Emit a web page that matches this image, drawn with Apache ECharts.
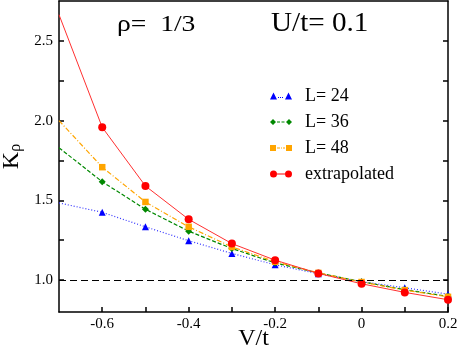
<!DOCTYPE html>
<html><head><meta charset="utf-8">
<script src="https://cdn.jsdelivr.net/npm/echarts@6/dist/echarts.min.js"></script>
<style>html,body{margin:0;padding:0;background:#fff}#c{width:460px;height:351px}</style>
</head><body><div id="c"></div>
<script>
// ---- data ----
const vt = [-0.7, -0.6, -0.5, -0.4, -0.3, -0.2, -0.1, 0, 0.1, 0.2];
const kL24 = [1.484, 1.425, 1.334, 1.247, 1.167, 1.096, 1.040, 0.990, 0.952, 0.912];
const kL36 = [1.830, 1.617, 1.444, 1.307, 1.198, 1.108, 1.045, 0.990, 0.940, 0.898];
const kL48 = [2.000, 1.708, 1.490, 1.334, 1.208, 1.115, 1.045, 0.988, 0.937, 0.895];
const kExtrap = [2.664, 1.958, 1.590, 1.381, 1.229, 1.125, 1.042, 0.977, 0.923, 0.877];
const seriesNames = ['L= 24', 'L= 36', 'L= 48', 'extrapolated'];
const xMajor = [-0.6, -0.4, -0.2, 0, 0.2];
const xTicks = [-0.6, -0.5, -0.4, -0.3, -0.2, -0.1, 0, 0.1, 0.2];
const yMajor = [1.0, 1.5, 2.0, 2.5];
const yTicks = [1.0, 1.25, 1.5, 1.75, 2.0, 2.25, 2.5];
const refLine = 1.0;

const FONT = 'Liberation Serif';
const chart = echarts.init(document.getElementById('c'), null, {renderer: 'canvas'});

function pts(ys) {
  return vt.map((x, i) => i === 0 ? {value: [x, ys[i]], symbol: 'none'} : [x, ys[i]]);
}

const iconTri = 'path://M0,7 L3.5,0 L7,7 Z M15,7 L18.5,0 L22,7 Z M8,4.5 h1 v1 h-1 Z M10,4.5 h1 v1 h-1 Z M12,4.5 h1 v1 h-1 Z';
const iconDia = 'path://M0,3.5 L3,0.5 L6,3.5 L3,6.5 Z M16,3.5 L19,0.5 L22,3.5 L19,6.5 Z M7,3 h3 v1 h-3 Z M11.5,3 h3 v1 h-3 Z M0,0 h0.01 v0.01 Z M0,7 h0.01 v-0.01 Z';
const iconSq = 'path://M0,0.5 h6 v6 h-6 Z M16,0.5 h6 v6 h-6 Z M7,3 h3 v1 h-3 Z M11,3 h1 v1 h-1 Z M13,3 h2 v1 h-2 Z M0,0 h0.01 v0.01 Z M0,7 h0.01 v-0.01 Z';
const iconCirc = 'path://M0,3.5 A3.5,3.5 0 1,1 7,3.5 A3.5,3.5 0 1,1 0,3.5 Z M15,3.5 A3.5,3.5 0 1,1 22,3.5 A3.5,3.5 0 1,1 15,3.5 Z M7,3 h8 v1 h-8 Z';

const LINE = {show: true, onZero: false, lineStyle: {color: '#000', width: 1.5}};
const TICK = vals => ({show: true, inside: true, length: 5, customValues: vals, lineStyle: {color: '#000', width: 1.5}});

const option = {
  animation: false,
  backgroundColor: '#fff',
  textStyle: {fontFamily: FONT},
  grid: {left: 59, right: 12, top: 1, bottom: 39, show: false, containLabel: false, outerBoundsMode: 'none'},
  xAxis: [{
    type: 'value', min: -0.7, max: 0.2, position: 'bottom', offset: 0,
    axisLine: LINE, splitLine: {show: false},
    name: 'V/t', nameLocation: 'middle', nameGap: 15, nameMoveOverlap: false,
    nameTextStyle: {fontFamily: FONT, fontSize: 24, color: '#000', verticalAlign: 'top'},
    axisTick: TICK(xTicks),
    axisLabel: {show: true, customValues: xMajor, margin: 5, fontFamily: FONT, fontSize: 15, color: '#000',
      formatter: v => (Math.abs(v) < 1e-9 ? '0' : String(+v.toFixed(1)))}
  }, {
    type: 'value', min: -0.7, max: 0.2, position: 'top', offset: 0,
    axisLine: LINE, splitLine: {show: false}, axisTick: {show: false}, axisLabel: {show: false}
  }],
  yAxis: [{
    type: 'value', min: 0.8, max: 2.75, position: 'left', offset: 0,
    axisLine: LINE, splitLine: {show: false},
    name: '{k|K}{s|ρ}', nameLocation: 'middle', nameGap: 30, nameRotate: 90,
    nameTextStyle: {fontFamily: FONT, color: '#000',
      rich: {k: {fontFamily: FONT, fontSize: 24, lineHeight: 24, verticalAlign: 'top', color: '#000'},
             s: {fontFamily: FONT, fontSize: 16, lineHeight: 16, padding: [12, 0, 0, 0], verticalAlign: 'bottom', color: '#000'}}},
    axisTick: TICK(yTicks),
    axisLabel: {show: true, customValues: yMajor, margin: 6, fontFamily: FONT, fontSize: 15, color: '#000',
      formatter: v => v.toFixed(1)}
  }, {
    type: 'value', min: 0.8, max: 2.75, position: 'right', offset: 0,
    axisLine: LINE, splitLine: {show: false},
    axisTick: TICK(yTicks),
    axisLabel: {show: false}
  }],
  legend: {
    orient: 'vertical', left: 265, top: 82, itemWidth: 22, itemHeight: 7, itemGap: 8,
    textStyle: {fontFamily: FONT, fontSize: 18, color: '#000', padding: [0, 0, 0, 8]},
    data: [
      {name: seriesNames[0], icon: iconTri},
      {name: seriesNames[1], icon: iconDia},
      {name: seriesNames[2], icon: iconSq},
      {name: seriesNames[3], icon: iconCirc}
    ]
  },
  graphic: [
    {type: 'text', left: 117, top: 13, scaleX: 1.2, style: {text: 'ρ=  1/3', fontFamily: FONT, fontSize: 23, fill: '#000'}},
    {type: 'text', left: 271, top: 10, scaleX: 1.08, style: {text: 'U/t= 0.1', fontFamily: FONT, fontSize: 27, fill: '#000'}}
  ],
  series: [
    {name: seriesNames[0], type: 'line', data: pts(kL24), symbol: 'triangle', symbolSize: 7,
     itemStyle: {color: '#0000ff'}, lineStyle: {color: '#3333ff', width: 1.2, type: [1, 2]},
     markLine: {silent: true, symbol: 'none', label: {show: false}, animation: false,
       lineStyle: {color: '#000', width: 1.2, type: [7, 4]}, data: [{yAxis: refLine}]}},
    {name: seriesNames[1], type: 'line', data: pts(kL36), symbol: 'diamond', symbolSize: 7,
     itemStyle: {color: '#008800'}, lineStyle: {color: '#008800', width: 1.2, type: [4, 2]}},
    {name: seriesNames[2], type: 'line', data: pts(kL48), symbol: 'rect', symbolSize: 6.5,
     itemStyle: {color: '#ffa500'}, lineStyle: {color: '#ffa500', width: 1.2, type: [5, 2, 1, 2]}},
    {name: seriesNames[3], type: 'line', data: pts(kExtrap), symbol: 'circle', symbolSize: 8,
     itemStyle: {color: '#ff0000'}, lineStyle: {color: '#ff3030', width: 1}}
  ]
};
chart.setOption(option);
</script></body></html>
